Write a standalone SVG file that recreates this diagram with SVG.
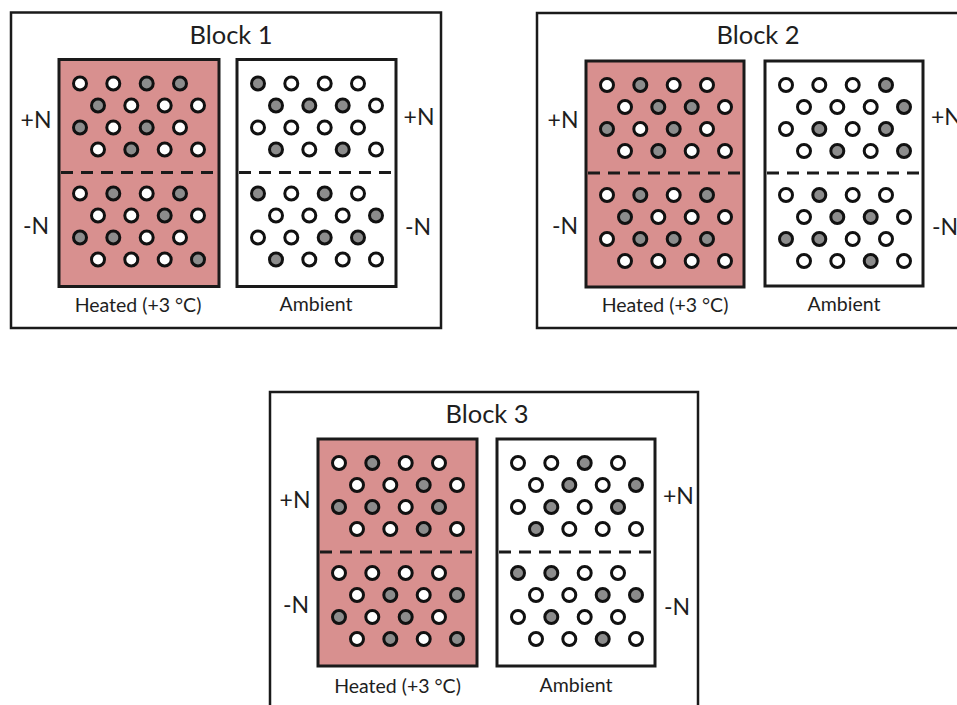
<svg xmlns="http://www.w3.org/2000/svg" width="957" height="705" viewBox="0 0 957 705">
<style>
.bg{fill:#ffffff}
.outer{fill:#ffffff;stroke:#1a1a1a;stroke-width:2.5}
.heated{fill:#d8908f;stroke:#1a1a1a;stroke-width:3}
.amb{fill:#ffffff;stroke:#1a1a1a;stroke-width:3}
.dash{stroke:#1a1a1a;stroke-width:3;stroke-dasharray:12 8;fill:none}
.w{fill:#ffffff;stroke:#111;stroke-width:3}
.g{fill:#8c8c8c;stroke:#111;stroke-width:3}
text{font-family:Lato,"Open Sans","Liberation Sans",sans-serif;fill:#1e1e1e}
.title{font-size:25.5px;text-anchor:middle}
.n{font-size:23px}
.lab{font-size:19.5px;text-anchor:middle}
</style>
<defs>
<circle id="cw" r="6.5" class="w"/>
<circle id="cg" r="6.5" class="g"/>
</defs>
<rect class="bg" x="0" y="0" width="957" height="705"/>

<g id="block1">
<rect class="outer" x="11" y="12.5" width="430" height="315.5"/>
<text class="title" x="231" y="44">Block 1</text>
<text class="n" x="36" y="128" text-anchor="middle">+N</text>
<text class="n" x="36" y="234" text-anchor="middle">-N</text>
<text class="n" x="419" y="125" text-anchor="middle">+N</text>
<text class="n" x="418" y="235" text-anchor="middle">-N</text>
<text class="lab" x="138" y="312">Heated (+3 °C)</text>
<text class="lab" x="316" y="311">Ambient</text>
<g id="b1-heated" transform="translate(59,59.5)">
<rect class="heated" x="0" y="0" width="160" height="227"/>
<line class="dash" x1="2" y1="113" x2="158" y2="113"/>
<use href="#cw" x="21" y="24"/><use href="#cw" x="54.3" y="24"/><use href="#cg" x="87.7" y="24"/><use href="#cg" x="121" y="24"/>
<use href="#cg" x="39" y="46"/><use href="#cw" x="72.3" y="46"/><use href="#cw" x="105.7" y="46"/><use href="#cw" x="139" y="46"/>
<use href="#cg" x="21" y="68"/><use href="#cw" x="54.3" y="68"/><use href="#cg" x="87.7" y="68"/><use href="#cw" x="121" y="68"/>
<use href="#cw" x="39" y="90"/><use href="#cg" x="72.3" y="90"/><use href="#cw" x="105.7" y="90"/><use href="#cw" x="139" y="90"/>
<use href="#cw" x="21" y="134"/><use href="#cg" x="54.3" y="134"/><use href="#cw" x="87.7" y="134"/><use href="#cg" x="121" y="134"/>
<use href="#cw" x="39" y="156"/><use href="#cw" x="72.3" y="156"/><use href="#cg" x="105.7" y="156"/><use href="#cw" x="139" y="156"/>
<use href="#cg" x="21" y="178"/><use href="#cg" x="54.3" y="178"/><use href="#cw" x="87.7" y="178"/><use href="#cw" x="121" y="178"/>
<use href="#cw" x="39" y="200"/><use href="#cw" x="72.3" y="200"/><use href="#cw" x="105.7" y="200"/><use href="#cg" x="139" y="200"/>
</g>
<g id="b1-ambient" transform="translate(237,59.5)">
<rect class="amb" x="0" y="0" width="159" height="227"/>
<line class="dash" x1="2" y1="113" x2="157" y2="113"/>
<use href="#cg" x="21" y="24"/><use href="#cw" x="54.3" y="24"/><use href="#cw" x="87.7" y="24"/><use href="#cw" x="121" y="24"/>
<use href="#cg" x="39" y="46"/><use href="#cg" x="72.3" y="46"/><use href="#cg" x="105.7" y="46"/><use href="#cw" x="139" y="46"/>
<use href="#cw" x="21" y="68"/><use href="#cw" x="54.3" y="68"/><use href="#cw" x="87.7" y="68"/><use href="#cw" x="121" y="68"/>
<use href="#cg" x="39" y="90"/><use href="#cw" x="72.3" y="90"/><use href="#cg" x="105.7" y="90"/><use href="#cw" x="139" y="90"/>
<use href="#cg" x="21" y="134"/><use href="#cw" x="54.3" y="134"/><use href="#cg" x="87.7" y="134"/><use href="#cw" x="121" y="134"/>
<use href="#cw" x="39" y="156"/><use href="#cw" x="72.3" y="156"/><use href="#cw" x="105.7" y="156"/><use href="#cg" x="139" y="156"/>
<use href="#cw" x="21" y="178"/><use href="#cw" x="54.3" y="178"/><use href="#cg" x="87.7" y="178"/><use href="#cg" x="121" y="178"/>
<use href="#cg" x="39" y="200"/><use href="#cw" x="72.3" y="200"/><use href="#cw" x="105.7" y="200"/><use href="#cw" x="139" y="200"/>
</g>
</g>

<g id="block2">
<rect class="outer" x="537" y="13" width="440" height="315"/>
<text class="title" x="758" y="44">Block 2</text>
<text class="n" x="563" y="128" text-anchor="middle">+N</text>
<text class="n" x="565" y="234" text-anchor="middle">-N</text>
<text class="n" x="931" y="125">+N</text>
<text class="n" x="932" y="235">-N</text>
<text class="lab" x="665" y="312">Heated (+3 °C)</text>
<text class="lab" x="844" y="311">Ambient</text>
<g id="b2-heated" transform="translate(586,61)">
<rect class="heated" x="0" y="0" width="158" height="226"/>
<line class="dash" x1="2" y1="112" x2="156" y2="112"/>
<use href="#cw" x="21" y="24"/><use href="#cg" x="54.3" y="24"/><use href="#cw" x="87.7" y="24"/><use href="#cw" x="121" y="24"/>
<use href="#cw" x="39" y="46"/><use href="#cg" x="72.3" y="46"/><use href="#cg" x="105.7" y="46"/><use href="#cw" x="139" y="46"/>
<use href="#cg" x="21" y="68"/><use href="#cw" x="54.3" y="68"/><use href="#cg" x="87.7" y="68"/><use href="#cw" x="121" y="68"/>
<use href="#cw" x="39" y="90"/><use href="#cg" x="72.3" y="90"/><use href="#cw" x="105.7" y="90"/><use href="#cw" x="139" y="90"/>
<use href="#cw" x="21" y="134"/><use href="#cg" x="54.3" y="134"/><use href="#cw" x="87.7" y="134"/><use href="#cg" x="121" y="134"/>
<use href="#cg" x="39" y="156"/><use href="#cw" x="72.3" y="156"/><use href="#cw" x="105.7" y="156"/><use href="#cw" x="139" y="156"/>
<use href="#cw" x="21" y="178"/><use href="#cg" x="54.3" y="178"/><use href="#cg" x="87.7" y="178"/><use href="#cg" x="121" y="178"/>
<use href="#cw" x="39" y="200"/><use href="#cw" x="72.3" y="200"/><use href="#cw" x="105.7" y="200"/><use href="#cw" x="139" y="200"/>
</g>
<g id="b2-ambient" transform="translate(765,61)">
<rect class="amb" x="0" y="0" width="158" height="225"/>
<line class="dash" x1="2" y1="112" x2="156" y2="112"/>
<use href="#cw" x="21" y="24"/><use href="#cw" x="54.3" y="24"/><use href="#cw" x="87.7" y="24"/><use href="#cg" x="121" y="24"/>
<use href="#cw" x="39" y="46"/><use href="#cw" x="72.3" y="46"/><use href="#cw" x="105.7" y="46"/><use href="#cg" x="139" y="46"/>
<use href="#cw" x="21" y="68"/><use href="#cg" x="54.3" y="68"/><use href="#cw" x="87.7" y="68"/><use href="#cg" x="121" y="68"/>
<use href="#cw" x="39" y="90"/><use href="#cg" x="72.3" y="90"/><use href="#cw" x="105.7" y="90"/><use href="#cg" x="139" y="90"/>
<use href="#cw" x="21" y="134"/><use href="#cg" x="54.3" y="134"/><use href="#cw" x="87.7" y="134"/><use href="#cw" x="121" y="134"/>
<use href="#cw" x="39" y="156"/><use href="#cg" x="72.3" y="156"/><use href="#cg" x="105.7" y="156"/><use href="#cw" x="139" y="156"/>
<use href="#cg" x="21" y="178"/><use href="#cg" x="54.3" y="178"/><use href="#cw" x="87.7" y="178"/><use href="#cw" x="121" y="178"/>
<use href="#cw" x="39" y="200"/><use href="#cw" x="72.3" y="200"/><use href="#cg" x="105.7" y="200"/><use href="#cw" x="139" y="200"/>
</g>
</g>

<g id="block3">
<rect class="outer" x="270" y="392" width="428" height="330"/>
<text class="title" x="487" y="423">Block 3</text>
<text class="n" x="295" y="508" text-anchor="middle">+N</text>
<text class="n" x="296" y="613" text-anchor="middle">-N</text>
<text class="n" x="663" y="504">+N</text>
<text class="n" x="664" y="615">-N</text>
<text class="lab" x="397.5" y="693">Heated (+3 °C)</text>
<text class="lab" x="576" y="692">Ambient</text>
<g id="b3-heated" transform="translate(318,439)">
<rect class="heated" x="0" y="0" width="159" height="227"/>
<line class="dash" x1="2" y1="113" x2="157" y2="113"/>
<use href="#cw" x="21" y="24"/><use href="#cg" x="54.3" y="24"/><use href="#cw" x="87.7" y="24"/><use href="#cw" x="121" y="24"/>
<use href="#cw" x="39" y="46"/><use href="#cw" x="72.3" y="46"/><use href="#cg" x="105.7" y="46"/><use href="#cw" x="139" y="46"/>
<use href="#cg" x="21" y="68"/><use href="#cg" x="54.3" y="68"/><use href="#cw" x="87.7" y="68"/><use href="#cg" x="121" y="68"/>
<use href="#cw" x="39" y="90"/><use href="#cw" x="72.3" y="90"/><use href="#cg" x="105.7" y="90"/><use href="#cw" x="139" y="90"/>
<use href="#cw" x="21" y="134"/><use href="#cw" x="54.3" y="134"/><use href="#cw" x="87.7" y="134"/><use href="#cw" x="121" y="134"/>
<use href="#cw" x="39" y="156"/><use href="#cg" x="72.3" y="156"/><use href="#cw" x="105.7" y="156"/><use href="#cg" x="139" y="156"/>
<use href="#cg" x="21" y="178"/><use href="#cw" x="54.3" y="178"/><use href="#cg" x="87.7" y="178"/><use href="#cw" x="121" y="178"/>
<use href="#cw" x="39" y="200"/><use href="#cg" x="72.3" y="200"/><use href="#cw" x="105.7" y="200"/><use href="#cg" x="139" y="200"/>
</g>
<g id="b3-ambient" transform="translate(497,439)">
<rect class="amb" x="0" y="0" width="158" height="227"/>
<line class="dash" x1="2" y1="113" x2="156" y2="113"/>
<use href="#cw" x="21" y="24"/><use href="#cw" x="54.3" y="24"/><use href="#cg" x="87.7" y="24"/><use href="#cw" x="121" y="24"/>
<use href="#cw" x="39" y="46"/><use href="#cg" x="72.3" y="46"/><use href="#cw" x="105.7" y="46"/><use href="#cg" x="139" y="46"/>
<use href="#cw" x="21" y="68"/><use href="#cg" x="54.3" y="68"/><use href="#cw" x="87.7" y="68"/><use href="#cg" x="121" y="68"/>
<use href="#cg" x="39" y="90"/><use href="#cw" x="72.3" y="90"/><use href="#cw" x="105.7" y="90"/><use href="#cw" x="139" y="90"/>
<use href="#cg" x="21" y="134"/><use href="#cg" x="54.3" y="134"/><use href="#cw" x="87.7" y="134"/><use href="#cw" x="121" y="134"/>
<use href="#cw" x="39" y="156"/><use href="#cw" x="72.3" y="156"/><use href="#cg" x="105.7" y="156"/><use href="#cg" x="139" y="156"/>
<use href="#cw" x="21" y="178"/><use href="#cg" x="54.3" y="178"/><use href="#cw" x="87.7" y="178"/><use href="#cw" x="121" y="178"/>
<use href="#cw" x="39" y="200"/><use href="#cw" x="72.3" y="200"/><use href="#cg" x="105.7" y="200"/><use href="#cw" x="139" y="200"/>
</g>
</g>
</svg>
